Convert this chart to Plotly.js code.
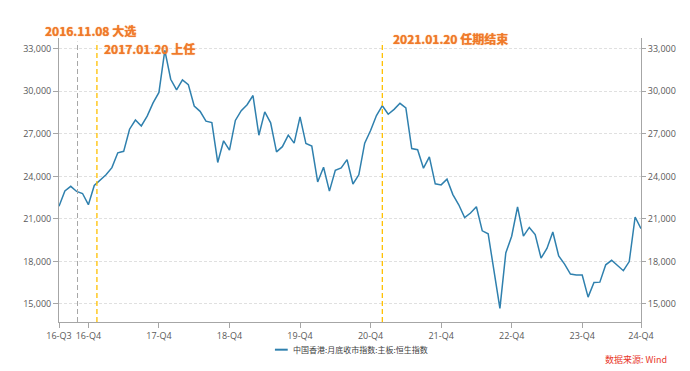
<!DOCTYPE html>
<html>
<head>
<meta charset="utf-8">
<script src="https://cdn.plot.ly/plotly-3.0.1.min.js"></script>
<style>html,body{margin:0;padding:0;background:#fff;}#chart{width:690px;height:371px;}</style>
</head>
<body>
<div id="chart"></div>
<script>
// Month-end categories
var months = [
"2016-07","2016-08","2016-09","2016-10","2016-11","2016-12",
"2017-01","2017-02","2017-03","2017-04","2017-05","2017-06","2017-07","2017-08","2017-09","2017-10","2017-11","2017-12",
"2018-01","2018-02","2018-03","2018-04","2018-05","2018-06","2018-07","2018-08","2018-09","2018-10","2018-11","2018-12",
"2019-01","2019-02","2019-03","2019-04","2019-05","2019-06","2019-07","2019-08","2019-09","2019-10","2019-11","2019-12",
"2020-01","2020-02","2020-03","2020-04","2020-05","2020-06","2020-07","2020-08","2020-09","2020-10","2020-11","2020-12",
"2021-01","2021-02","2021-03","2021-04","2021-05","2021-06","2021-07","2021-08","2021-09","2021-10","2021-11","2021-12",
"2022-01","2022-02","2022-03","2022-04","2022-05","2022-06","2022-07","2022-08","2022-09","2022-10","2022-11","2022-12",
"2023-01","2023-02","2023-03","2023-04","2023-05","2023-06","2023-07","2023-08","2023-09","2023-10","2023-11","2023-12",
"2024-01","2024-02","2024-03","2024-04","2024-05","2024-06","2024-07","2024-08","2024-09","2024-10"
];
// 中国香港:月底收市指数:主板:恒生指数
var hsiValues = [
21891,22977,23297,22935,22790,22001,
23361,23741,24112,24615,25661,25765,27324,27970,27554,28246,29177,29919,
32887,30845,30093,30808,30469,28955,28583,27889,27789,24980,26507,25846,
27942,28633,29051,29699,26901,28543,27778,25725,26092,26907,26346,28190,
26313,26130,23603,24644,22961,24427,24595,25177,23459,24107,26341,27231,
28284,28980,28378,28725,29151,28828,25961,25879,24576,25377,23475,23398,
23802,22713,21997,21089,21415,21860,20157,19954,17223,14687,18597,19781,
21842,19786,20400,19895,18234,18916,20079,18382,17810,17112,17043,17047,
15485,16511,16541,17763,18080,17719,17345,17989,21134,20317
];
var seriesName = "中国香港:月底收市指数:主板:恒生指数";
var tickMonths = ["2016-07","2016-12","2017-12","2018-12","2019-12","2020-12","2021-12","2022-12","2023-12","2024-10"];
var tickLabels = ["16-Q3","16-Q4","17-Q4","18-Q4","19-Q4","20-Q4","21-Q4","22-Q4","23-Q4","24-Q4"];
var yTicks = [15000,18000,21000,24000,27000,30000,33000];
// event markers (position in month index) and labels
var eventPos = [3.15, 6.45, 55];
var eventColors = ["#A6A6A6","#FFC000","#FFC000"];
var eventLabels = ["2016.11.08 大选","2017.01.20 上任","2021.01.20 任期结束"];
var sourceText = "数据来源: Wind";

var lineColor = "#2F80AE";
var yRange = [13730, 33755];
var tickFont = {family: "Open Sans, Noto Sans CJK SC, sans-serif", size: 9, color: "#595959"};
var axisColor = "#A6A6A6";

var traces = [
  {x: months, y: hsiValues, type: "scatter", mode: "lines", name: seriesName,
   line: {color: lineColor, width: 1.5}, showlegend: false, hoverinfo: "x+y"},
  {x: months, y: hsiValues, type: "scatter", mode: "lines", yaxis: "y2",
   line: {color: "rgba(0,0,0,0)", width: 0}, showlegend: false, hoverinfo: "skip"}
];

var shapes = [];
for (var i = 0; i < eventPos.length; i++) {
  shapes.push({type: "line", xref: "x", yref: "paper", x0: eventPos[i], x1: eventPos[i], y0: 0, y1: 0.987,
    line: {color: eventColors[i], width: i === 0 ? 1 : 1.3, dash: "5px,3px"}});
}
// legend sample
shapes.push({type: "line", xref: "paper", yref: "paper", x0: 0.371, x1: 0.393, y0: -0.0975, y1: -0.0975,
  line: {color: lineColor, width: 2}});

var annoPos = [[-0.0275, 1.0257], [0.0738, 0.963], [0.5701, 0.9975]];
var annotations = [];
for (var j = 0; j < eventLabels.length; j++) {
  annotations.push({text: "<b>" + eventLabels[j] + "</b>", xref: "paper", yref: "paper",
    x: annoPos[j][0], y: annoPos[j][1], xanchor: "left", yanchor: "middle", showarrow: false,
    font: {family: "Noto Sans CJK SC, sans-serif", size: 12, color: "#F07A2A",
           shadow: "0px 0px 1px #F07A2A"}});
}
annotations.push({text: seriesName, xref: "paper", yref: "paper", x: 0.398, y: -0.0975,
  xanchor: "left", yanchor: "middle", showarrow: false,
  font: {family: "Noto Sans CJK SC, sans-serif", size: 8, color: "#404040"}});
annotations.push({text: sourceText, xref: "paper", yref: "paper", x: 1.0476, y: -0.1327,
  xanchor: "right", yanchor: "middle", showarrow: false,
  font: {family: "Noto Sans CJK SC, sans-serif", size: 9, color: "#E8382B"}});

var layout = {
  width: 690, height: 371,
  margin: {l: 59, r: 49, t: 38, b: 49, pad: 0},
  paper_bgcolor: "#ffffff", plot_bgcolor: "#ffffff",
  showlegend: false,
  xaxis: {type: "category", range: [0, months.length - 1], autorange: false,
    tickmode: "array", tickvals: tickMonths, ticktext: tickLabels,
    showgrid: false, zeroline: false, showline: true, linecolor: axisColor, linewidth: 1,
    ticks: "outside", ticklen: 5, tickcolor: axisColor, tickfont: tickFont},
  yaxis: {range: yRange, autorange: false, tickmode: "array", tickvals: yTicks, tickformat: ",",
    showgrid: true, gridcolor: "#E0E0E0", gridwidth: 1, griddash: "3px,2px", zeroline: false,
    showline: true, linecolor: axisColor, linewidth: 1, ticks: "outside", ticklen: 5,
    tickcolor: axisColor, tickfont: tickFont},
  yaxis2: {range: yRange, autorange: false, overlaying: "y", side: "right", tickmode: "array",
    tickvals: yTicks, tickformat: ",", showgrid: false, zeroline: false,
    showline: true, linecolor: axisColor, linewidth: 1, ticks: "outside", ticklen: 4,
    tickcolor: axisColor, tickfont: tickFont},
  shapes: shapes,
  annotations: annotations
};

Plotly.newPlot("chart", traces, layout, {displayModeBar: false, staticPlot: true});
</script>
</body>
</html>
